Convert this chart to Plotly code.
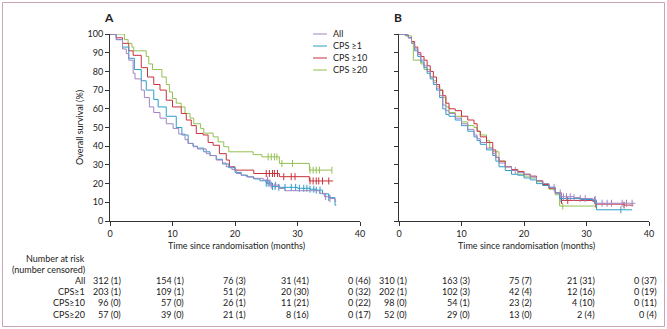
import plotly.graph_objects as go

W, H = 667, 329
FONT = "Lato"
TXT = "#222222"

# Kaplan-Meier step points (months, % surviving) for the two panels
group_names = ["All", "CPS ≥1", "CPS ≥10", "CPS ≥20"]
risk_labels = ["All", "CPS≥1", "CPS≥10", "CPS≥20"]
colors = ["#a084c4", "#2f9dc8", "#c8323c", "#93c052"]

a_all_t = [0, 1, 2, 2.6, 3, 3.7, 4, 5, 5.5, 6.3, 7, 8, 9, 10.1, 11, 12, 12.5, 13.3, 14, 15.4, 16, 17, 18, 18.6, 19.5, 20.2, 21, 21.8, 23, 24.5, 25.5, 27.1, 28, 33.5, 34.3, 35.2, 36, 36.2]
a_all_s = [100, 97, 92, 89.5, 86, 79, 76, 70, 66, 61, 58, 55, 52, 49.5, 46.5, 43.5, 41.5, 39.7, 38.5, 36, 35, 32.6, 31, 29, 27.5, 25.4, 24.5, 23.7, 22.8, 21.9, 19.2, 17.4, 16.2, 14.8, 13, 12, 10.5, 10.5]
a_cps1_t = [0, 1, 2, 3, 3.9, 5, 5.8, 7, 7.7, 9, 10.6, 11.5, 12.5, 13.3, 14, 15, 16, 17, 18, 19, 20, 21, 22, 23, 24, 25, 26, 27, 30, 32, 33, 34, 35, 36, 36.2]
a_cps1_s = [100, 97, 93, 87, 81, 75, 70, 65, 61, 56, 50, 46, 41.5, 40, 39, 37, 35, 33, 30.5, 28.5, 26, 24.5, 23.5, 22.5, 21.5, 20.2, 18.5, 18, 17.5, 17, 16.5, 14.5, 12.5, 8.5, 8.5]
a_cps10_t = [0, 1, 2, 3, 3.7, 5, 6, 7, 8, 9, 10, 11.4, 12.2, 13, 13.8, 14.9, 15.7, 16.5, 17.5, 18.6, 19.1, 20, 23, 27.1, 31.9, 35.7]
a_cps10_s = [100, 98, 95, 91, 88.6, 82, 77, 73, 70, 64.6, 61, 57.5, 54, 51, 46.8, 46, 42, 40.5, 36, 32.6, 29, 27.2, 25.4, 23.7, 21.4, 21.4]
a_cps20_t = [0, 1.8, 2.3, 2.9, 3.5, 3.8, 5.8, 6.2, 6.8, 8.3, 9, 9.5, 10, 10.6, 11.4, 12, 12.8, 13.4, 14.5, 15, 16.5, 17.3, 18.2, 19, 22.9, 24.3, 27.1, 31.9, 35.5]
a_cps20_s = [100, 100, 97, 95, 93, 91, 88, 84, 81, 77, 73, 69, 65.5, 63, 61, 57.5, 55, 52, 49.5, 47, 45, 42.3, 39.7, 37, 35.5, 34.3, 30.8, 27.2, 27.2]

b_all_t = [0, 1, 1.5, 2, 2.5, 3, 3.5, 4, 4.5, 5, 5.5, 6, 6.5, 7, 7.5, 8, 9, 10, 11, 12, 12.5, 13, 14, 15, 15.5, 16, 17, 18, 19, 20, 21, 22, 23, 24, 25, 26, 28, 29, 31, 31.5, 37.8]
b_all_s = [100, 99.5, 98, 95, 92, 89, 86, 83, 80, 77, 74, 71, 67, 62, 59, 57.5, 55, 52, 49, 46, 44, 42, 39, 36, 34, 31, 29, 27, 26, 25, 23.5, 21.5, 20, 18, 15, 13, 12.5, 12, 11.5, 9.5, 9.5]
b_cps1_t = [0, 1, 1.5, 2, 2.5, 3, 3.5, 4, 4.5, 5, 5.5, 6, 6.5, 7, 7.5, 8, 9, 10, 11, 12, 12.5, 13, 14, 15, 15.5, 16, 17, 18, 19, 20, 21, 22, 23, 24, 25, 25.7, 29, 31, 31.6, 37.3]
b_cps1_s = [100, 99.5, 98, 95, 91, 88, 85, 82, 79, 76, 73, 70, 66, 60, 57, 56, 54, 51, 48, 45, 43, 41, 38, 35, 32, 29, 27, 25, 24.5, 23, 22, 20, 19, 18, 15, 12, 11.5, 11, 6, 6]
b_cps10_t = [0, 1, 1.5, 2, 2.5, 3, 3.5, 4, 4.5, 5, 5.5, 6, 6.5, 7, 7.5, 8, 9, 10, 11, 12, 12.5, 13, 14, 15, 15.5, 16, 17, 18, 19, 20, 21, 22, 23, 24, 25, 26, 31, 31.5, 36, 37.5]
b_cps10_s = [100, 99.5, 98, 96, 93, 90, 88, 86, 83, 80, 77, 73, 70, 67, 63, 60, 59, 56, 54, 52, 48, 45, 42, 38, 34, 32, 29, 27.5, 26.5, 25, 24, 21.5, 19.5, 17.5, 15, 11, 10.5, 9, 8.5, 8.5]
b_cps20_t = [0, 1, 2, 2.3, 3.5, 4, 5, 5.5, 6, 6.5, 7, 7.5, 8, 9, 10, 11, 12, 12.5, 13, 14, 14.5, 15, 16, 17, 18, 19, 20, 21, 22, 23, 24, 25, 25.7, 31.5]
b_cps20_s = [100, 99, 96, 86, 84, 81, 77, 75, 72, 70, 66, 61, 58, 56, 53, 51, 50, 48, 46, 43, 39, 37, 32, 29, 27, 25, 24, 23, 21, 19, 17, 14, 8, 8]

# censoring times (months)
a_cens = [
    [25.2, 25.8, 26.5, 34.5, 35.2],
    [25.0, 25.3, 25.6, 26.0, 26.4, 27.0, 28.0, 29.0, 29.7, 30.3, 31.0, 31.5, 32.0, 32.6, 33.0, 33.6, 35.0],
    [25.0, 25.5, 26.0, 26.3, 26.8, 27.8, 29.0, 29.6, 32.0, 32.5, 33.0, 33.4, 34.0, 35.0],
    [25.3, 25.8, 26.3, 26.7, 27.5, 29.2, 32.0, 32.5, 33.0, 33.5, 35.5],
]
b_cens = [
    [18.6, 24.8, 25.8, 26.3, 26.8, 27.4, 28.0, 29.0, 29.8, 31.4, 32.5, 33.3, 34.0, 35.7, 36.4, 37.3],
    [25.9, 31.3, 35.5],
    [26.0, 27.0, 31.5, 36.0],
    [26.2],
]

# number at risk (number censored) at 0, 10, 20, 30, 40 months
risk_times = [0, 10, 20, 30, 40]
a_risk = [
    ["312 (1)", "154 (1)", "76 (3)", "31 (41)", "0 (46)"],
    ["203 (1)", "109 (1)", "51 (2)", "20 (30)", "0 (32)"],
    ["96 (0)", "57 (0)", "26 (1)", "11 (21)", "0 (22)"],
    ["57 (0)", "39 (0)", "21 (1)", "8 (16)", "0 (17)"],
]
b_risk = [
    ["310 (1)", "163 (3)", "75 (7)", "21 (31)", "0 (37)"],
    ["202 (1)", "102 (3)", "42 (4)", "12 (16)", "0 (19)"],
    ["98 (0)", "54 (1)", "23 (2)", "4 (10)", "0 (11)"],
    ["52 (0)", "29 (0)", "13 (0)", "2 (4)", "0 (4)"],
]

panel_a = [(a_all_t, a_all_s), (a_cps1_t, a_cps1_s), (a_cps10_t, a_cps10_s), (a_cps20_t, a_cps20_s)]
panel_b = [(b_all_t, b_all_s), (b_cps1_t, b_cps1_s), (b_cps10_t, b_cps10_s), (b_cps20_t, b_cps20_s)]


def step_value(ts, ss, t):
    v = ss[0]
    for ti, si in zip(ts, ss):
        if ti <= t:
            v = si
    return v


def px(x):
    return x / W


def py(y):
    return 1 - y / H


fig = go.Figure()

# draw order: green, red, blue, purple on top
order = [3, 2, 1, 0]
for panel, cens, xa, ya in [(panel_a, a_cens, "x", "y"), (panel_b, b_cens, "x2", "y2")]:
    for i in order:
        ts, ss = panel[i]
        fig.add_trace(go.Scatter(
            x=ts, y=ss, mode="lines", line=dict(color=colors[i], width=1, shape="hv"),
            xaxis=xa, yaxis=ya, showlegend=False, cliponaxis=False, hoverinfo="skip"))
        cy = [step_value(ts, ss, c) for c in cens[i]]
        fig.add_trace(go.Scatter(
            x=cens[i], y=cy, mode="markers",
            marker=dict(symbol="line-ns-open", size=5, color=colors[i],
                        line=dict(color=colors[i], width=1)),
            xaxis=xa, yaxis=ya, showlegend=False, cliponaxis=False, hoverinfo="skip"))

x_dom_a = [px(110), px(360)]
x_dom_b = [px(399), px(649)]
y_dom = [py(221), py(34)]

axis_common = dict(
    showgrid=False, zeroline=False, showline=True, linecolor="#333333", linewidth=1,
    ticks="outside", ticklen=4, tickcolor="#333333", tickwidth=1, automargin=False,
    tickfont=dict(family=FONT, size=9, color=TXT),
)
fig.update_layout(
    width=W, height=H, margin=dict(l=0, r=0, t=0, b=0, pad=0, autoexpand=False),
    paper_bgcolor="white", plot_bgcolor="white", showlegend=False,
    xaxis=dict(domain=x_dom_a, range=[0, 40], tickvals=[0, 10, 20, 30, 40], anchor="y", **axis_common),
    yaxis=dict(domain=y_dom, range=[0, 100], tickvals=list(range(0, 101, 10)), anchor="x", **axis_common),
    xaxis2=dict(domain=x_dom_b, range=[0, 40], tickvals=[0, 10, 20, 30, 40], anchor="y2", **axis_common),
    yaxis2=dict(domain=y_dom, range=[0, 100], tickvals=list(range(0, 101, 10)), anchor="x2",
                showticklabels=False, **axis_common),
)

ann = []
shapes = []


def label(text, x, y, xanchor="center", size=9, **kw):
    ann.append(dict(text=text, x=px(x), y=py(y), xref="paper", yref="paper",
                    xanchor=xanchor, yanchor="middle", showarrow=False,
                    font=dict(family=FONT, size=size, color=TXT), **kw))


# panel letters
label("<b>A</b>", 102, 18, xanchor="left", size=12)
label("<b>B</b>", 392, 18, xanchor="left", size=12)

# axis titles
label("Overall survival (%)", 79, 128, textangle=-90)
for cx in (236, 526):
    label("Time since randomisation (months)", cx, 245)

# legend
leg_y = [34, 46, 58, 70]
for i, name in enumerate(group_names):
    shapes.append(dict(type="line", xref="paper", yref="paper", x0=px(313), x1=px(327),
                       y0=py(leg_y[i]), y1=py(leg_y[i]), line=dict(color=colors[i], width=1)))
    label(name, 331, leg_y[i], xanchor="left")

# number-at-risk table
label("Number at risk", 87, 258, xanchor="right")
label("(number censored)", 87, 269.5, xanchor="right")
row_y = [280.5, 291.5, 302.5, 314]
for r, lab in enumerate(risk_labels):
    label(lab, 87, row_y[r], xanchor="right")
    for xref, rows, shift in (("x", a_risk, 13), ("x2", b_risk, 10)):
        for t, val in zip(risk_times, rows[r]):
            ann.append(dict(text=val, x=t, y=py(row_y[r]), xref=xref, yref="paper", xshift=shift,
                            xanchor="right", yanchor="middle", showarrow=False,
                            font=dict(family=FONT, size=9, color=TXT)))

# outer frame
shapes.append(dict(type="rect", xref="paper", yref="paper", x0=px(2.5), x1=px(664.5),
                   y0=py(326.5), y1=py(2.5), line=dict(color="#c9a3b6", width=1)))

fig.update_layout(annotations=ann, shapes=shapes)
fig.write_html("out.html")
